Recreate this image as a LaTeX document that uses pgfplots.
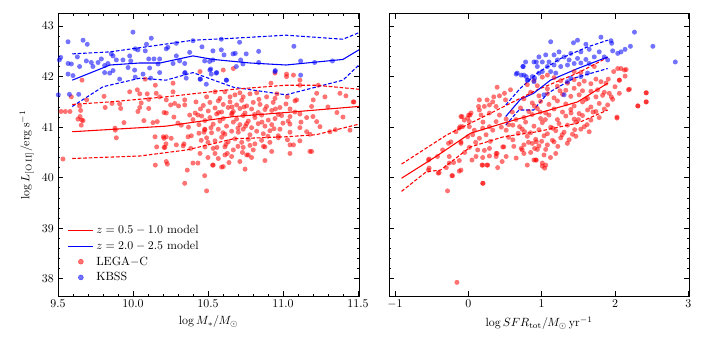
\documentclass[border=0pt]{standalone}
\usepackage{pgfplots}
\pgfplotsset{compat=1.18}

\pgfplotsset{
  panel/.style={
    anchor=south west, scale only axis,
    width=252.8pt, height=236.9pt,
    ymin=37.66, ymax=43.24,
    ytick={38,39,40,41,42,43}, minor y tick num=4,
    tick align=inside, xtick pos=both, ytick pos=both,
    major tick length=4pt, minor tick length=2pt,
    axis line style={line width=0.8pt},
    every tick/.style={black, line width=0.6pt},
    clip=true,
  },
  dots/.style={only marks, mark=*, mark size=2.1pt,
    mark options={draw opacity=0, fill opacity=0.55}},
  model/.style={line width=0.9pt},
  modeld/.style={line width=0.9pt, dash pattern=on 3pt off 1.6pt},
}

\begin{document}
\begin{tikzpicture}[x=1pt,y=1pt]
\useasboundingbox (0,0) rectangle (593.0,296.5);

% ---------- left panel: stellar mass ----------
\begin{axis}[panel, at={(48.72pt,47.88pt)},
  xmin=9.5, xmax=11.507,
  xtick={9.5,10,10.5,11,11.5}, minor x tick num=4,
  xticklabel style={/pgf/number format/.cd, fixed, fixed zerofill, precision=1},
  xlabel={$\log M_{*}/M_{\odot}$},
  ylabel={$\log L_{[\mathrm{O\,II}]}/\mathrm{erg\,s^{-1}}$},
  legend style={at={(0.02,0.03)}, anchor=south west, draw=none, fill=none,
    row sep=0.6pt},
  legend cell align=left,
]
% LEGA-C
\addplot[dots, red, forget plot] coordinates {
(9.66,41.93) (9.589,41.60) (9.549,41.31) (9.644,41.42) (9.651,41.33) (9.633,41.16)
(9.667,41.13) (9.655,41.04) (9.533,40.37) (9.807,41.61) (9.815,41.39) (9.86,41.47)
(9.911,41.46) (9.918,41.37) (9.94,41.09) (9.882,40.94) (9.889,40.79) (9.978,41.70)
(10.029,41.74) (10.045,41.66) (10.095,41.66) (10.155,41.67) (10.178,41.60) (10.105,41.55)
(10.055,41.48) (10.045,41.39) (10.033,41.31) (10.105,41.37) (10.073,41.13) (10.133,41.09)
(10.162,41.11) (10.207,41.29) (10.251,41.44) (10.267,41.87) (10.267,41.70) (10.222,41.54)
(10.278,41.47) (10.304,41.42) (10.345,41.44) (10.345,41.54) (10.149,41.83) (10.082,41.95)
(10.222,41.28) (10.273,41.20) (10.30,41.08) (10.322,41.04) (10.207,40.78) (10.222,40.81)
(10.255,40.78) (10.207,40.60) (10.289,40.65) (10.34,40.67) (10.367,40.81) (10.389,40.83)
(10.385,40.58) (10.40,40.29) (10.433,40.29) (10.149,40.25) (10.362,40.15) (10.345,39.89)
(10.478,40.04) (10.415,41.28) (10.433,41.24) (10.378,41.24) (10.478,40.96) (10.455,40.74)
(10.473,40.90)
(11.024,42.05) (11.07,42.03) (10.92,41.87) (11.113,41.83) (11.236,41.83) (11.38,41.67)
(11.473,41.50) (10.547,41.70) (10.491,41.60) (10.613,41.70) (10.647,41.60) (10.68,41.64)
(10.713,41.68) (10.735,41.60) (10.78,41.66) (10.825,41.68) (10.891,41.60) (10.947,41.57)
(11.029,41.60) (11.08,41.52) (11.202,41.54) (11.191,41.41)
(10.513,41.49) (10.569,41.52) (10.602,41.45) (10.647,41.50) (10.691,41.44) (10.725,41.53)
(10.758,41.42) (10.802,41.49) (10.847,41.45) (10.891,41.41) (10.935,41.49) (10.98,41.39)
(11.02,41.46) (11.047,41.36)
(10.469,41.43) (10.502,41.32) (10.547,41.38) (10.591,41.30) (10.635,41.39) (10.669,41.31)
(10.713,41.37) (10.747,41.28) (10.791,41.36) (10.835,41.29) (10.88,41.35) (10.925,41.33)
(10.969,41.25) (11.113,41.26) (11.158,41.19) (11.225,41.11)
(10.458,41.22) (10.513,41.19) (10.558,41.26) (10.602,41.17) (10.658,41.25) (10.691,41.16)
(10.735,41.23) (10.769,41.12) (10.813,41.19) (10.858,41.24) (10.902,41.14) (10.947,41.17)
(10.991,41.23) (11.035,41.12)
(10.48,41.13) (10.535,41.06) (10.58,41.12) (10.624,41.02) (10.669,41.10) (10.713,41.05)
(10.758,41.07) (10.791,40.99) (10.835,41.07) (10.88,41.02) (10.925,41.05) (10.98,40.96)
(11.047,41.06) (11.113,40.99)
(10.48,40.95) (10.524,40.89) (10.569,40.96) (10.613,40.86) (10.658,40.92) (10.702,40.90)
(10.735,40.96) (10.78,40.85) (10.825,40.92) (10.869,40.87) (10.913,40.93) (10.969,40.83)
(11.047,40.90) (11.18,40.86)
(10.491,40.79) (10.547,40.73) (10.591,40.80) (10.635,40.71) (10.68,40.77) (10.725,40.70)
(10.769,40.76) (10.813,40.67) (10.858,40.74) (10.913,40.70) (10.969,40.79) (11.113,40.73)
(10.48,40.61) (10.535,40.58) (10.613,40.61) (10.669,40.55) (10.735,40.60) (10.802,40.55)
(10.88,40.61) (11.047,40.65)
(10.547,40.48) (10.613,40.45) (10.658,40.42) (10.758,40.45) (10.791,40.40) (10.925,40.52)
(11.047,40.48) (11.191,40.52) (10.535,40.25) (10.602,40.22) (10.713,40.32) (10.88,40.34)
(10.747,40.17)
(10.229,40.27) (10.491,39.74) (10.531,40.25) (10.591,40.21) (10.213,40.60) (10.335,40.63)
(10.447,40.48) (10.569,40.38) (10.629,40.48) (10.769,40.45)
(11.469,41.50) (11.447,40.94) (11.247,41.01) (11.18,40.52) (11.07,40.65) (11.313,40.91)
(11.158,40.91) (11.20,41.21) (11.047,41.21) (11.091,41.54) (11.225,41.67) (11.113,41.93)
(10.947,42.07) (11.024,42.00) (10.602,42.13) (10.447,42.10) (10.669,42.16) (9.58,41.31)
(9.647,41.21) (9.658,41.14) (9.691,41.54) (9.88,40.98) (10.147,40.81) (10.202,40.81)
(10.158,40.61) (10.22,40.67) (10.222,40.32) (9.52,41.31) (11.36,41.29)
(10.44,41.05) (10.52,40.99) (10.60,40.89) (10.66,41.28) (10.70,40.98) (10.74,41.40)
(10.81,41.25) (10.86,41.10) (10.90,40.82) (10.95,41.36) (11.00,41.08) (11.08,41.30)
(11.12,41.10) (10.62,40.66) (10.70,40.62) (10.78,40.64) (10.56,40.60) (10.45,41.36)
(10.42,41.50) (10.58,41.57) (10.66,41.40) (10.84,41.55) (10.96,41.66) (10.40,41.15)
(10.37,41.00) (10.44,40.88) (10.50,40.70) (10.57,41.29) (10.75,41.02) (10.94,40.97)
(11.03,40.75) (10.87,40.62) (10.73,40.50) (10.64,40.30) (10.50,40.40) (11.30,41.40)
(11.40,41.20) (11.35,40.95) (11.28,41.60) (11.42,41.62)
};
% KBSS
\addplot[dots, blue, forget plot] coordinates {
(10.0,42.88) (9.567,42.69) (9.667,42.72) (9.695,42.64) (10.122,42.76) (10.09,42.64)
(9.518,42.38) (9.567,42.26) (9.589,42.25) (9.629,42.39) (9.644,42.20) (9.689,42.31)
(9.722,42.28) (9.733,42.20) (9.767,42.28) (9.789,42.35) (9.811,42.22) (9.833,42.26)
(9.855,42.45) (9.867,42.41) (9.889,42.33) (9.933,42.33) (9.978,42.41) (9.985,42.31)
(10.015,42.55) (10.033,42.53) (10.082,42.51) (10.105,42.35) (10.14,42.35) (10.167,42.25)
(10.178,42.35) (10.222,42.55) (10.233,42.58) (10.289,42.66) (10.289,42.41) (10.311,42.31)
(10.345,42.26) (10.378,42.48) (10.40,42.71) (10.46,42.59) (10.478,42.31) (9.567,42.05)
(9.60,42.02) (9.811,42.08) (9.845,42.07) (9.867,42.12) (9.911,41.95) (9.967,42.18)
(10.011,42.13) (10.015,41.99) (10.067,42.05) (10.111,42.17) (10.118,41.97) (10.178,42.08)
(10.267,42.26) (10.345,42.07) (10.355,41.97) (10.45,41.95) (10.489,41.85) (10.589,42.74)
(10.711,42.68) (10.533,42.51) (10.589,42.53) (10.607,42.43) (10.667,42.45) (10.682,42.46)
(10.718,42.33) (10.755,42.45) (10.838,42.50) (11.073,42.60) (10.511,42.30) (10.533,42.33)
(10.689,42.20) (10.733,42.25) (10.838,42.28) (11.118,42.31) (11.211,42.28) (10.518,42.15)
(10.522,42.05) (10.555,42.07) (10.622,41.93) (10.949,42.12) (11.118,42.03) (11.33,42.31)
(9.509,42.33) (9.502,41.64) (9.576,41.65) (9.638,41.65) (10.347,42.08) (10.513,42.13)
(10.558,42.08) (10.624,41.93) (10.447,41.95) (10.947,42.10)
};
% z = 2.0-2.5 model
\addplot[model, blue, forget plot] coordinates {
(9.595,41.93) (9.847,42.23) (10.047,42.27) (10.18,42.27) (10.40,42.41) (10.535,42.34)
(10.78,42.27) (11.02,42.23) (11.40,42.34) (11.507,42.53)};
\addplot[modeld, blue, forget plot] coordinates {
(9.595,42.45) (9.847,42.49) (10.09,42.59) (10.40,42.72) (10.67,42.76) (11.02,42.82)
(11.40,42.74) (11.507,42.87)};
\addplot[modeld, blue, forget plot] coordinates {
(9.595,41.41) (9.80,41.80) (10.047,41.97) (10.22,41.93) (10.40,42.08) (10.67,41.79)
(11.02,41.64) (11.40,41.93) (11.507,42.23)};
% z = 0.5-1.0 model
\addplot[model, red, forget plot] coordinates {
(9.595,40.91) (10.22,41.02) (10.67,41.21) (11.02,41.29) (11.507,41.41)};
\addplot[modeld, red, forget plot] coordinates {
(9.595,41.45) (9.847,41.50) (10.22,41.60) (10.67,41.75) (11.02,41.83) (11.22,41.83)
(11.507,41.75)};
\addplot[modeld, red, forget plot] coordinates {
(9.595,40.38) (10.047,40.43) (10.36,40.55) (10.67,40.77) (11.02,40.81) (11.22,40.85)
(11.507,41.06)};

\addlegendimage{legend image code/.code={\draw[red, line width=0.9pt] (0pt,0pt) -- (21pt,0pt);}}
\addlegendentry{$z=0.5-1.0$ model}
\addlegendimage{legend image code/.code={\draw[blue, line width=0.9pt] (0pt,0pt) -- (21pt,0pt);}}
\addlegendentry{$z=2.0-2.5$ model}
\addlegendimage{legend image code/.code={\fill[red, opacity=0.55] (10.5pt,0pt) circle (2.1pt);}}
\addlegendentry{LEGA$-$C}
\addlegendimage{legend image code/.code={\fill[blue, opacity=0.55] (10.5pt,0pt) circle (2.1pt);}}
\addlegendentry{KBSS}
\end{axis}

% ---------- right panel: star formation rate ----------
\begin{axis}[panel, at={(326.8pt,47.88pt)}, width=252pt,
  xmin=-1.08, xmax=3.01,
  xtick={-1,0,1,2,3},
  yticklabels={},
  xlabel={$\log SFR_{\mathrm{tot}}/M_{\odot}\,\mathrm{yr}^{-1}$},
]
% LEGA-C
\addplot[dots, red] coordinates {
(0.493,41.67) (0.425,41.62) (0.333,41.50) (0.379,41.41) (0.288,41.44) (0.219,41.41)
(0.151,41.34) (0.037,41.28) (0.174,41.24) (0.288,41.28) (0.425,41.24) (-0.10,41.21)
(-0.009,41.18) (-0.078,41.01) (-0.123,40.98) (0.014,41.01) (0.082,40.94) (0.196,40.98)
(0.288,41.01) (0.333,40.94) (0.379,41.11) (0.516,41.16) (0.516,40.94) (0.607,41.04)
(0.699,41.01) (0.767,40.91) (-0.169,40.91) (-0.237,40.71) (-0.10,40.71) (-0.009,40.81)
(0.059,40.85) (0.151,40.78) (0.242,40.85) (-0.10,40.68) (0.014,40.60) (0.128,40.55)
(0.219,40.54) (0.288,40.58) (0.379,40.48) (0.47,40.61) (0.607,40.75) (0.721,40.58)
(0.516,40.42) (0.105,40.42) (0.196,40.40) (0.288,40.43) (0.379,40.42) (-0.26,40.42)
(-0.42,40.42) (-0.534,40.37) (-0.123,40.34) (-0.26,40.29) (-0.10,40.15) (0.196,40.25)
(0.264,40.25) (0.653,40.39) (0.927,40.35) (-0.534,40.19) (-0.397,40.10) (-0.215,40.04)
(0.196,39.89) (0.904,40.58) (0.927,40.71) (0.023,41.24) (0.151,41.54) (0.014,41.11)
(-0.055,41.14)
(-0.543,40.15) (-0.223,40.04) (-0.283,39.74) (-0.123,40.13) (0.201,39.89) (-0.155,37.93)
(2.082,42.16) (2.151,42.14) (1.982,42.10) (2.137,42.01) (2.059,41.93) (1.908,41.95)
(2.183,41.74) (2.059,41.67) (2.425,41.68) (2.425,41.50) (2.311,41.42) (2.027,41.18)
(1.968,41.55) (1.922,41.67) (1.877,41.87) (1.808,41.90)
(1.74,41.95) (1.671,41.86) (1.58,41.91) (1.511,41.85) (1.443,41.94) (1.352,41.87)
(1.26,41.92) (1.169,41.98) (1.078,42.03) (1.009,41.99) (0.895,41.92) (0.804,41.84)
(0.941,41.82) (1.078,41.76) (1.215,41.81) (1.329,41.73) (1.443,41.77) (1.557,41.72)
(1.671,41.71) (1.763,41.74) (1.854,41.69)
(0.849,41.69) (0.963,41.62) (1.078,41.66) (1.169,41.58) (1.284,41.65) (1.397,41.61)
(1.511,41.64) (1.626,41.57) (1.74,41.60) (1.831,41.63)
(0.758,41.56) (0.872,41.48) (0.986,41.51) (1.10,41.45) (1.215,41.52) (1.329,41.46)
(1.443,41.42) (1.557,41.50) (1.671,41.40) (1.785,41.47) (1.90,41.44)
(0.712,41.38) (0.826,41.31) (0.941,41.37) (1.055,41.28) (1.169,41.36) (1.284,41.30)
(1.397,41.35) (1.511,41.27) (1.626,41.34) (1.74,41.31) (1.854,41.36)
(0.758,41.19) (0.872,41.25) (0.986,41.17) (1.10,41.24) (1.215,41.15) (1.329,41.22)
(1.443,41.16) (1.557,41.23) (1.671,41.14) (1.785,41.19)
(0.781,41.10) (0.895,41.02) (1.009,41.09) (1.123,41.00) (1.237,41.07) (1.352,41.04)
(1.466,41.10) (1.58,41.01)
(0.735,40.96) (0.849,40.89) (0.963,40.95) (1.078,40.87) (1.192,40.93) (1.306,40.90)
(1.42,40.86) (1.534,40.96) (1.648,40.91)
(0.804,40.82) (0.918,40.76) (1.032,40.83) (1.146,40.74) (1.26,40.79) (1.374,40.75)
(1.466,40.82)
(0.758,40.65) (0.872,40.68) (0.963,40.63) (1.078,40.65) (1.169,40.71)
(0.735,40.55) (0.941,40.56) (1.055,40.56) (1.192,40.48) (1.032,40.45) (0.918,40.35)
(0.804,40.25) (1.009,40.23) (1.041,40.19)
(-0.543,40.35) (-0.41,40.09) (-0.27,40.68) (-0.11,41.01) (-0.086,41.21) (0.005,41.24)
(0.14,41.41) (0.256,41.54) (0.347,41.60) (0.393,41.79) (0.575,41.74) (0.507,41.54)
(0.187,40.25) (0.256,40.25) (0.461,40.32) (0.758,40.48) (0.895,40.35) (1.009,40.29)
(1.055,40.25) (0.393,40.48) (0.484,40.61) (2.037,42.16) (2.128,42.13) (2.059,41.93)
(2.196,41.75) (2.311,41.42) (2.425,41.68) (2.425,41.50) (2.027,41.20) (1.534,42.08)
(1.443,42.10) (1.717,42.20)
(0.60,41.30) (0.65,41.15) (0.55,41.05) (0.68,40.88) (0.82,40.70) (0.90,41.42)
(1.05,41.15) (1.15,40.98) (1.28,40.85) (1.40,41.28) (1.50,41.15) (1.62,41.05)
(1.70,41.30) (1.22,40.62) (1.35,40.68) (1.12,40.40) (0.85,40.50) (0.62,40.62)
(0.55,40.80) (1.00,40.72) (1.45,40.95) (1.60,41.55) (1.25,41.72) (0.98,41.30)
(-0.35,40.55) (-0.20,40.30) (-0.05,40.50) (0.10,40.70) (0.30,40.72) (0.45,41.00)
(0.20,41.10) (-0.30,40.20) (0.05,40.35) (0.40,40.20) (1.95,41.60) (2.00,41.80)
};
% KBSS
\addplot[dots, blue] coordinates {
(1.123,42.69) (1.489,42.72) (1.434,42.67) (1.603,42.64) (1.808,42.78) (1.945,42.71)
(1.955,42.66) (2.265,42.88) (2.516,42.60) (2.822,42.29) (2.21,42.60) (2.137,42.54)
(2.082,42.49) (2.037,42.46) (1.968,42.51) (1.785,42.49) (1.648,42.54) (1.534,42.49)
(1.397,42.46) (1.237,42.49) (1.169,42.43) (1.055,42.43) (0.963,42.39) (0.895,42.29)
(1.009,42.29) (1.10,42.29) (1.215,42.33) (1.306,42.39) (1.374,42.33) (1.489,42.36)
(1.603,42.34) (1.717,42.39) (1.854,42.39) (1.90,42.33) (1.078,42.20) (1.169,42.23)
(1.26,42.20) (1.352,42.23) (1.443,42.26) (1.534,42.27) (1.648,42.26) (0.941,42.20)
(1.009,42.10) (1.123,42.10) (1.192,42.07) (0.749,42.20) (0.667,42.07) (0.758,42.03)
(0.804,41.93) (0.872,42.00) (0.963,42.07) (0.895,41.90) (0.781,42.29) (1.397,41.97)
(1.352,41.90) (1.534,42.00) (1.626,42.07) (1.306,41.64) (1.032,41.64)
(0.744,42.20) (0.653,42.05) (0.721,42.03) (0.79,42.00) (0.813,41.93) (0.904,41.97)
(0.927,42.29)
};
% z = 0.5-1.0 model
\addplot[model, red] coordinates {
(-0.91,39.99) (-0.43,40.43) (0.03,40.88) (0.48,41.08) (0.94,41.27) (1.49,41.50) (1.90,41.87)};
\addplot[modeld, red] coordinates {
(-0.91,40.27) (-0.29,40.85) (0.35,41.31) (0.94,41.74) (1.49,42.07) (1.90,42.38)};
\addplot[modeld, red] coordinates {
(-0.91,39.73) (-0.57,40.12) (-0.38,40.15) (0.03,40.61) (0.48,40.81) (0.94,40.91)
(1.49,41.08) (1.90,41.34)};
% z = 2.0-2.5 model
\addplot[model, blue] coordinates {
(0.51,41.21) (0.71,41.55) (0.89,41.67) (1.12,41.93) (1.49,42.16) (1.90,42.39)};
\addplot[modeld, blue] coordinates {
(0.51,41.44) (0.71,41.77) (0.94,42.07) (1.26,42.36) (1.63,42.59) (1.90,42.72)};
\addplot[modeld, blue] coordinates {
(0.51,41.04) (0.69,41.34) (0.89,41.34) (1.08,41.67) (1.44,41.97) (1.90,42.16)};
\end{axis}
\end{tikzpicture}
\end{document}
